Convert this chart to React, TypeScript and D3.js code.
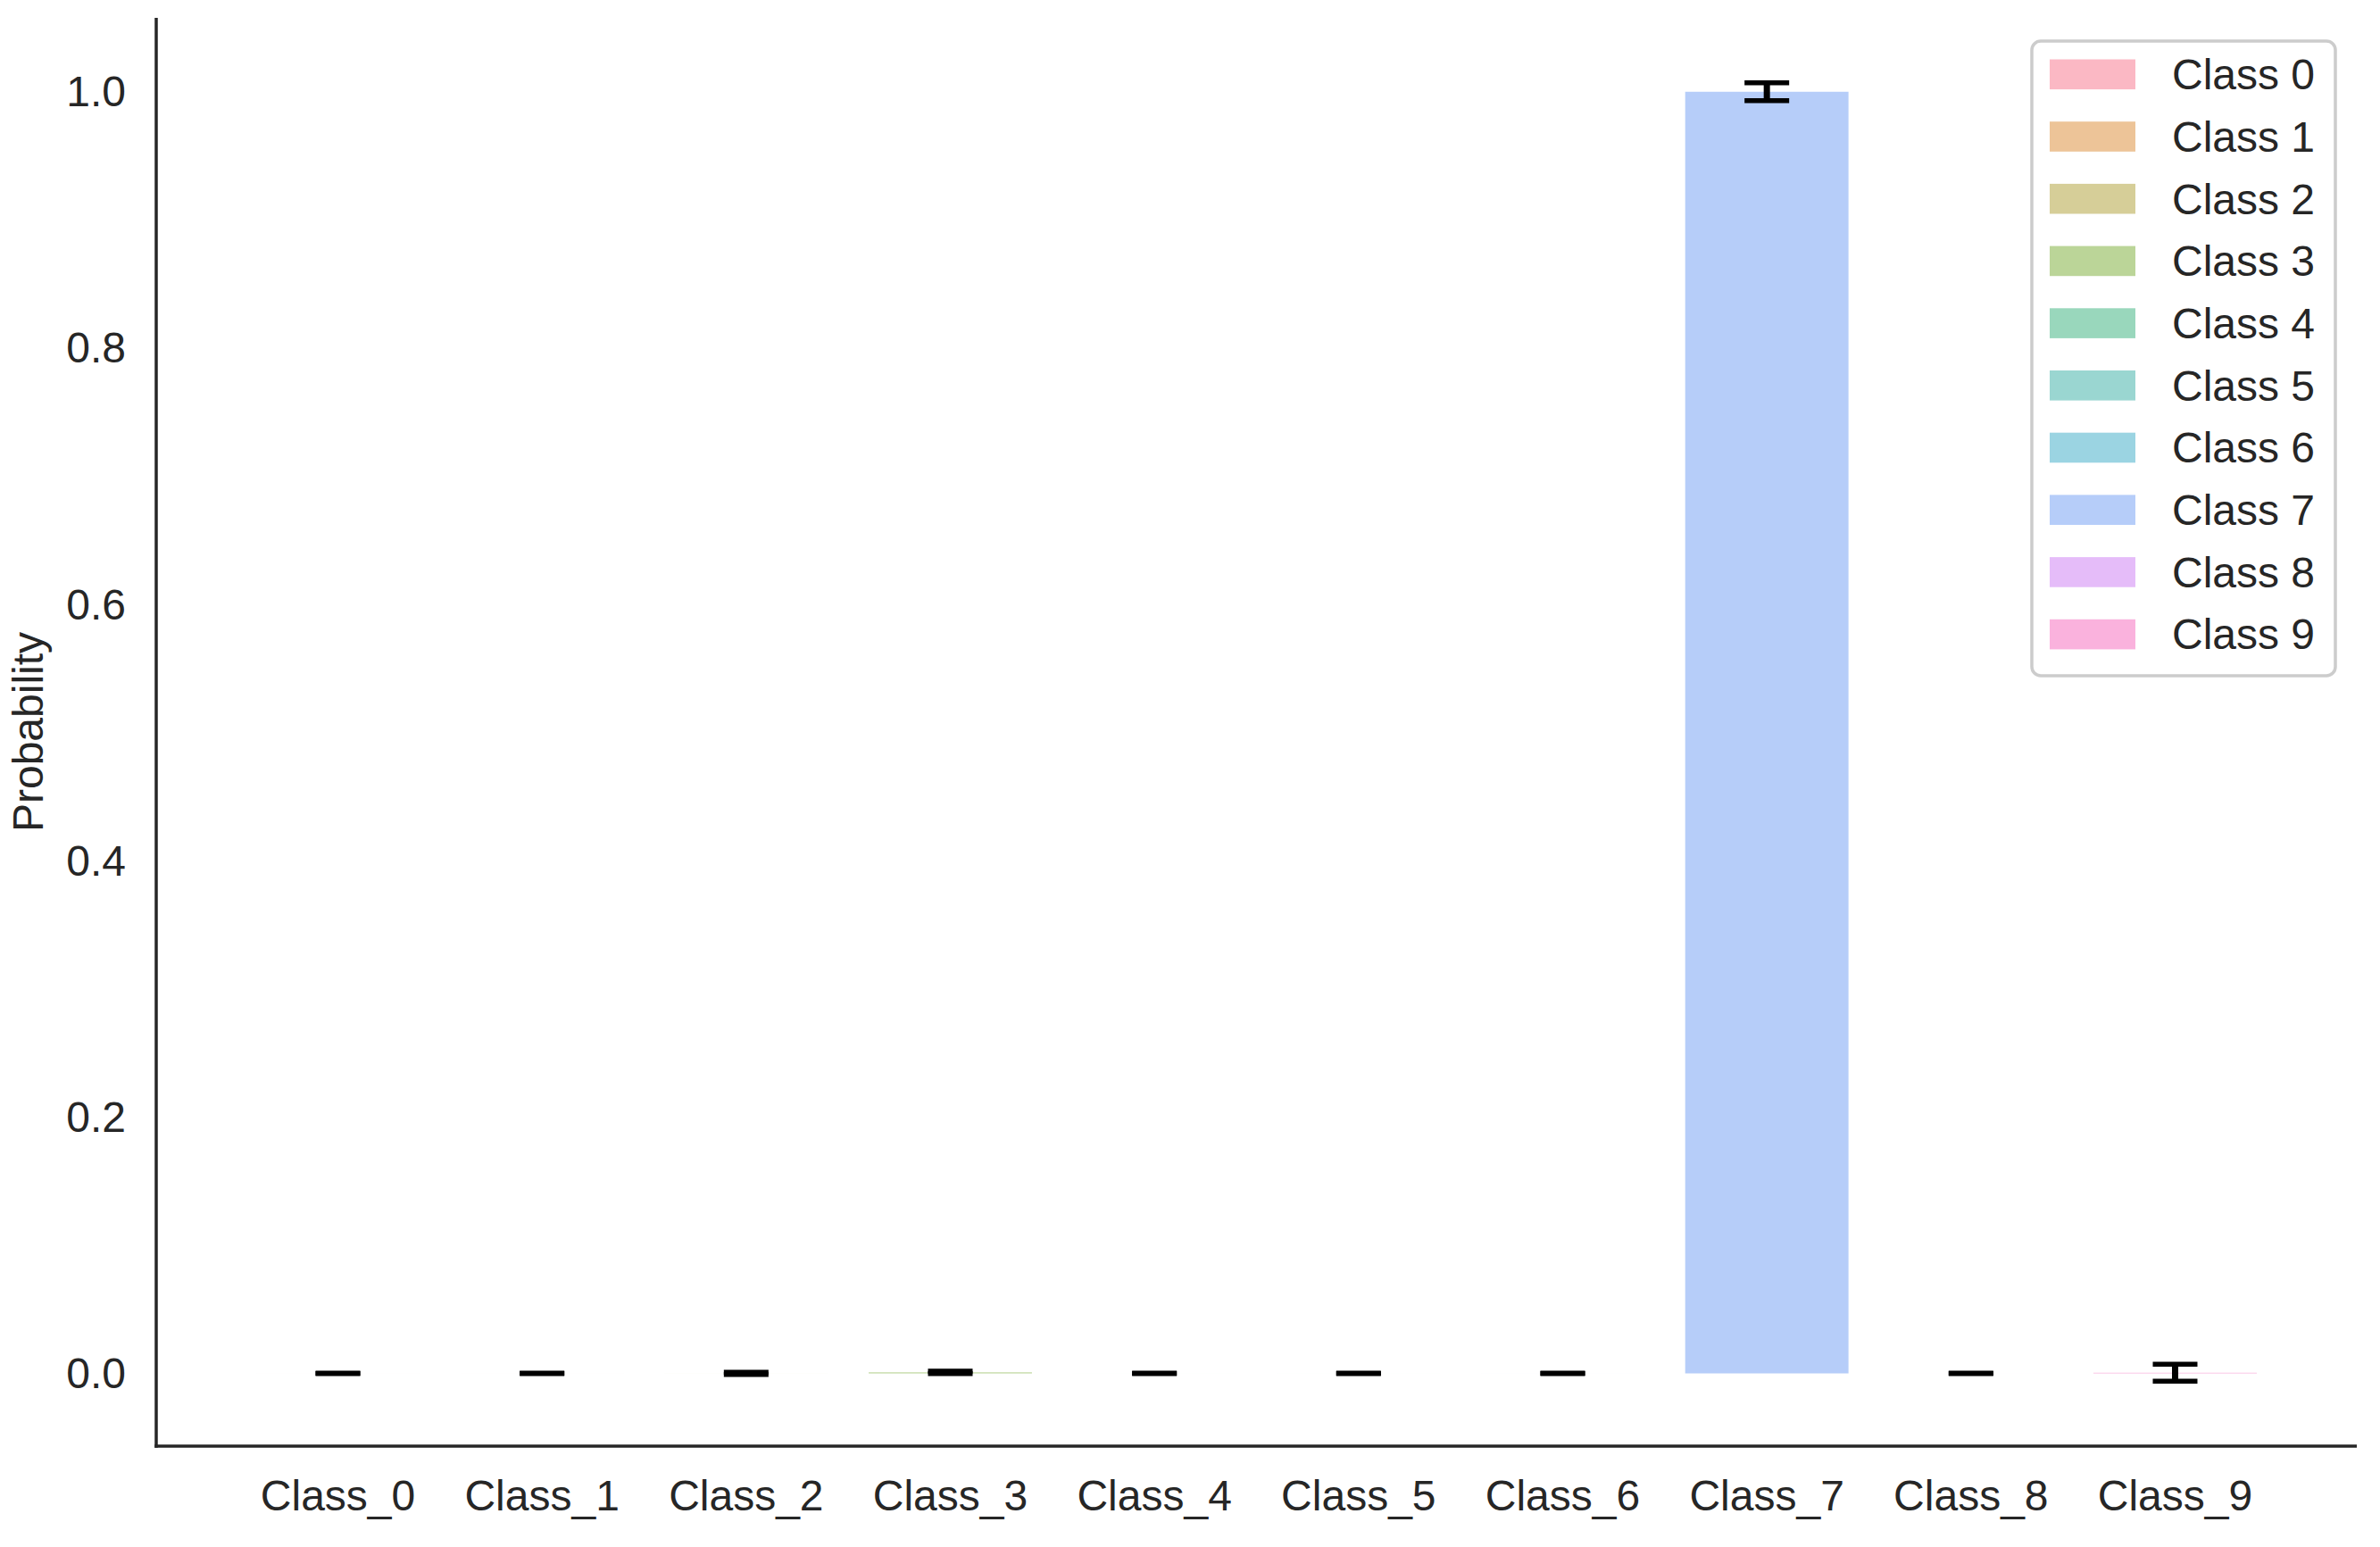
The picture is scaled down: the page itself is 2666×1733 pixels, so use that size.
import React from "react";
import * as d3 from "d3";

const categories = ["Class_0", "Class_1", "Class_2", "Class_3", "Class_4", "Class_5", "Class_6", "Class_7", "Class_8", "Class_9"];
const legendLabels = ["Class 0", "Class 1", "Class 2", "Class 3", "Class 4", "Class 5", "Class 6", "Class 7", "Class 8", "Class 9"];
const meanValues = [0.00001, 0.00001, 0.00002, 0.0008, 0.00001, 0.00001, 0.00001, 0.9998, 0.00001, 0.0005];
const errorValues = [0.0001, 0.0001, 0.0008, 0.0009, 0.0001, 0.0001, 0.0001, 0.007, 0.0001, 0.0066];
const yTicks = [0.0, 0.2, 0.4, 0.6, 0.8, 1.0];
const palette = ["#f77189", "#dc8932", "#ae9d31", "#77ab31", "#33b07a", "#36ada4", "#38a9c5", "#6e9bf4", "#cc7af4", "#f565bc"];

const W = 2666;
const H = 1733;
const LEFT = 175;
const RIGHT = 2640;
const TOP = 20;
const BOTTOM = 1620;
const FONT = "'Liberation Sans', Arial, Helvetica, sans-serif";
const TEXT = "#262626";

export default function App() {
  const n = categories.length;
  const barW = 0.8;
  const xLo = -barW / 2;
  const xHi = n - 1 + barW / 2;
  const xPad = 0.05 * (xHi - xLo);
  const x = d3.scaleLinear().domain([xLo - xPad, xHi + xPad]).range([LEFT, RIGHT]);

  const lows = meanValues.map((m, i) => m - errorValues[i]);
  const highs = meanValues.map((m, i) => m + errorValues[i]);
  const yLo = Math.min(0, d3.min(lows) as number);
  const yHi = Math.max(0, d3.max(highs) as number);
  const yPad = 0.05 * (yHi - yLo);
  const y = d3.scaleLinear().domain([yLo - yPad, yHi + yPad]).range([BOTTOM, TOP]);

  const capHalf = 25;
  const errW = 5.5;

  // legend layout
  const fs = 48;
  const legX = 2276;
  const legY = 46;
  const legWidth = 340;
  const legHeight = 711;
  const entry0 = 83.3;
  const entryStep = 69.7;
  const patchX = 2296;
  const patchW = 96;
  const patchH = 0.7 * fs;
  const textX = 2433;

  return (
    <svg
      width={W}
      height={H}
      viewBox={`0 0 ${W} ${H}`}
      style={{ position: "absolute", left: 0, top: 0, display: "block", background: "#ffffff" }}
      fontFamily={FONT}
    >
      <rect x={0} y={0} width={W} height={H} fill="#ffffff" />

      {/* bars */}
      {meanValues.map((m, i) => {
        const y0 = y(0);
        const y1 = y(m);
        return (
          <rect
            key={`bar-${i}`}
            x={x(i - barW / 2)}
            width={x(i + barW / 2) - x(i - barW / 2)}
            y={Math.min(y0, y1)}
            height={Math.abs(y0 - y1)}
            fill={palette[i]}
            fillOpacity={0.5}
          />
        );
      })}

      {/* error bars */}
      {meanValues.map((m, i) => {
        const cx = x(i);
        const yt = y(m + errorValues[i]);
        const yb = y(m - errorValues[i]);
        return (
          <g key={`err-${i}`} stroke="#000000" strokeWidth={errW} fill="none">
            <line x1={cx} x2={cx} y1={yt} y2={yb} strokeWidth={7} />
            <line x1={cx - capHalf} x2={cx + capHalf} y1={yt} y2={yt} />
            <line x1={cx - capHalf} x2={cx + capHalf} y1={yb} y2={yb} />
          </g>
        );
      })}

      {/* spines */}
      <line x1={LEFT} x2={LEFT} y1={TOP} y2={BOTTOM + 1.75} stroke={TEXT} strokeWidth={3.5} />
      <line x1={LEFT - 1.75} x2={RIGHT} y1={BOTTOM} y2={BOTTOM} stroke={TEXT} strokeWidth={3.5} />

      {/* y ticks */}
      {yTicks.map((t) => (
        <text
          key={`yt-${t}`}
          x={141}
          y={y(t)}
          dy="0.35em"
          textAnchor="end"
          fontSize={fs}
          fill={TEXT}
        >
          {t.toFixed(1)}
        </text>
      ))}

      {/* x ticks */}
      {categories.map((c, i) => (
        <text key={`xt-${c}`} x={x(i)} y={1692} textAnchor="middle" fontSize={fs} fill={TEXT}>
          {c}
        </text>
      ))}

      {/* y label */}
      <text
        transform={`translate(48, ${(TOP + BOTTOM) / 2}) rotate(-90)`}
        textAnchor="middle"
        fontSize={fs}
        fill={TEXT}
      >
        Probability
      </text>

      {/* legend */}
      <rect
        x={legX}
        y={legY}
        width={legWidth}
        height={legHeight}
        rx={10}
        ry={10}
        fill="#ffffff"
        fillOpacity={0.8}
        stroke="#cccccc"
        strokeWidth={3.5}
      />
      {legendLabels.map((lab, i) => {
        const cy = entry0 + i * entryStep;
        return (
          <g key={`leg-${i}`}>
            <rect
              x={patchX}
              y={cy - patchH / 2}
              width={patchW}
              height={patchH}
              fill={palette[i]}
              fillOpacity={0.5}
            />
            <text x={textX} y={cy} dy="0.35em" fontSize={fs} fill={TEXT}>
              {lab}
            </text>
          </g>
        );
      })}
    </svg>
  );
}
